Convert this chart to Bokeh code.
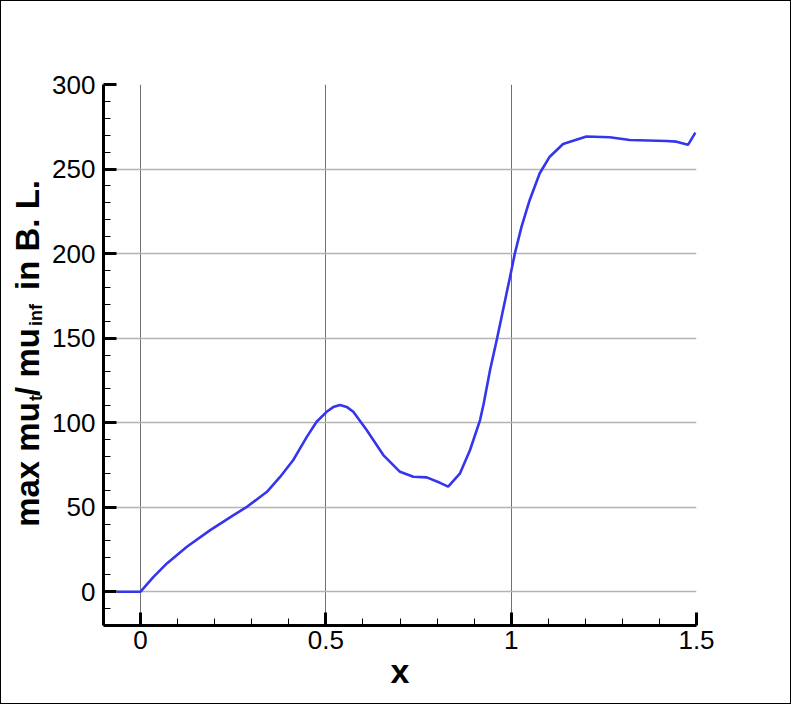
import math
from bokeh.plotting import figure
from bokeh.layouts import row
from bokeh.models import Range1d, FixedTicker, CustomJSTickFormatter
from bokeh.core.properties import value
from bokeh.embed import file_html
from bokeh.resources import INLINE

# ---- data ----
x_vals = [-0.064, 0.0, 0.035, 0.071, 0.125, 0.188, 0.251, 0.287, 0.341, 0.377,
          0.412, 0.430, 0.449, 0.475, 0.502, 0.520, 0.538, 0.556, 0.574, 0.610,
          0.655, 0.700, 0.736, 0.772, 0.808, 0.830, 0.862, 0.889, 0.916, 0.926,
          0.943, 0.962, 0.978, 0.997, 1.010, 1.028, 1.050, 1.077, 1.104, 1.140,
          1.203, 1.266, 1.320, 1.419, 1.446, 1.477, 1.497]
y_vals = [0.0, 0.0, 8.8, 16.7, 26.6, 36.4, 45.3, 50.2, 59.1, 68.0,
          77.9, 84.6, 91.7, 100.5, 106.4, 109.2, 110.4, 109.3, 106.4, 95.6,
          80.8, 70.9, 68.0, 67.6, 64.4, 62.1, 70.0, 83.8, 101.5, 111.5,
          131.1, 149.9, 166.6, 186.3, 200.2, 215.9, 231.7, 247.5, 257.3, 264.8,
          269.2, 268.8, 267.2, 266.6, 266.2, 264.3, 271.5]

x_major = [0, 0.5, 1, 1.5]
x_minor = [-0.1, 0.1, 0.2, 0.3, 0.4, 0.6, 0.7, 0.8, 0.9, 1.1, 1.2, 1.3, 1.4]
y_major = [0, 50, 100, 150, 200, 250, 300]
y_minor = [-10, 10, 20, 30, 40, 60, 70, 80, 90, 110, 120, 130, 140, 160, 170,
           180, 190, 210, 220, 230, 240, 260, 270, 280, 290]

# y-axis title pieces (text with subscripts)
title_pieces = ["max mu", "t", "/ mu", "inf", "in B. L."]
title_is_sub = [False, True, False, True, False]

FONT = "Liberation Sans"
H_IN = 702          # inner height (1px page border around everything)
W_LAB = 44          # width of the strip that carries the y title
W_MAIN = 789 - W_LAB
B_TOP, B_BOT = 83, 78

# ---- strip holding the rotated y-axis title (pixel-like coordinates) ----
lab = figure(width=W_LAB, height=H_IN, output_backend="svg", toolbar_location=None,
             x_range=Range1d(1, 1 + W_LAB),
             y_range=Range1d(1 + H_IN - B_BOT, 1 + B_TOP),
             min_border_left=0, min_border_right=0,
             min_border_top=B_TOP, min_border_bottom=B_BOT,
             x_axis_location=None, y_axis_location=None)
lab.outline_line_color = None
lab.grid.visible = False
lab.background_fill_color = "white"
lab.border_fill_color = "white"

MAIN_SIZE, SUB_SIZE = 33, 18
# centres of each piece: across (x) and along (y) the rotated line
title_pos_x = [38 - 0.347 * MAIN_SIZE, 42 - 0.347 * SUB_SIZE,
               38 - 0.347 * MAIN_SIZE, 42 - 0.347 * SUB_SIZE,
               38 - 0.347 * MAIN_SIZE]
title_pos_y = [464, 397.5, 361.5, 314.5, 234.5]
for txt, sub, tx, ty in zip(title_pieces, title_is_sub, title_pos_x, title_pos_y):
    lab.text(x=[tx], y=[ty], text=[txt], angle=math.pi / 2,
             text_font=value(FONT), text_font_style="bold",
             text_font_size=f"{SUB_SIZE if sub else MAIN_SIZE}px",
             text_color="black", text_align="center", text_baseline="middle")

# ---- main plot ----
p = figure(width=W_MAIN, height=H_IN, output_backend="svg", toolbar_location=None,
           x_range=Range1d(-0.1, 1.5), y_range=Range1d(-20, 300),
           min_border_left=58, min_border_right=94, min_border_top=B_TOP,
           min_border_bottom=B_BOT)
p.outline_line_color = None
p.background_fill_color = "white"
p.border_fill_color = "white"

p.line(x_vals, y_vals, line_color="#3535ee", line_width=2.6)

p.xaxis.ticker = FixedTicker(ticks=x_major, minor_ticks=x_minor)
p.yaxis.ticker = FixedTicker(ticks=y_major, minor_ticks=y_minor)
p.xaxis.formatter = CustomJSTickFormatter(code="return tick.toString()")

for ax in (p.xaxis, p.yaxis):
    ax.axis_line_width = 3
    ax.axis_line_color = "black"
    ax.major_tick_line_width = 3
    ax.major_tick_line_color = "black"
    ax.minor_tick_line_width = 1
    ax.minor_tick_line_color = "black"
    ax.major_tick_in = 13
    ax.major_tick_out = 0
    ax.minor_tick_in = 7
    ax.minor_tick_out = 0
    ax.major_label_text_font = FONT
    ax.major_label_text_font_size = "26px"
    ax.major_label_text_color = "black"

p.yaxis.major_label_standoff = 8
p.xaxis.major_label_standoff = 5

p.xaxis.axis_label = "x"
p.xaxis.axis_label_text_font = FONT
p.xaxis.axis_label_text_font_size = "34px"
p.xaxis.axis_label_text_font_style = "bold"
p.xaxis.axis_label_text_color = "black"
p.xaxis.axis_label_standoff = 0

p.xgrid.grid_line_color = "#707070"
p.xgrid.grid_line_width = 1
p.ygrid.grid_line_color = "#b4b4b4"
p.ygrid.grid_line_width = 1.5

layout = row(lab, p)
layout.styles = {"border": "1px solid black"}

open("out.html", "w").write(file_html(layout, INLINE))
